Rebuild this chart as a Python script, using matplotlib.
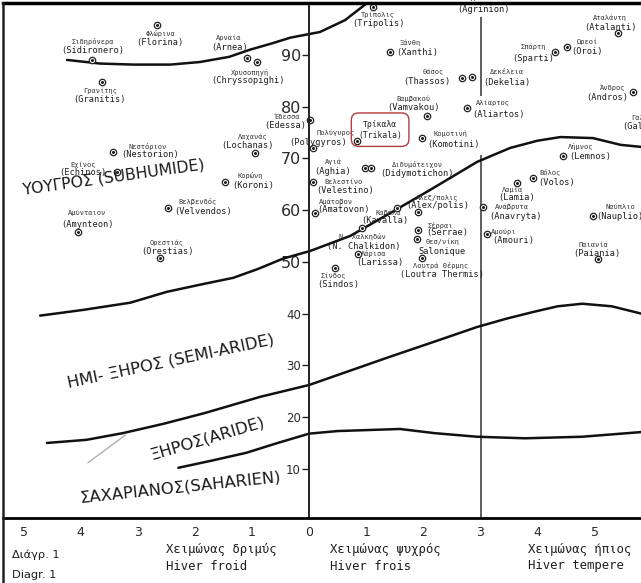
import matplotlib
matplotlib.use("Agg")
import matplotlib.pyplot as plt
from matplotlib.lines import Line2D

# ---------------- data ----------------
# Emberger climagram: x = m (mean minimum of the coldest month, deg C), y = Q2
humid_m = [-4.24, -3.66, -3.08, -2.43, -1.91, -1.40, -1.03, -0.65, -0.33, 0.19, 0.63, 0.98]
humid_q = [89.0, 88.3, 88.1, 88.1, 88.6, 89.6, 91.0, 92.2, 93.3, 94.4, 96.7, 99.7]

subhumid_m = [-4.71, -3.96, -3.13, -2.49, -1.90, -1.33, -0.90, -0.46, 0.02, 0.72, 1.37,
              2.12, 2.94, 3.52, 4.00, 4.40, 4.97, 5.45, 5.81]
subhumid_q = [39.6, 40.7, 42.1, 44.2, 45.6, 46.9, 48.6, 50.6, 52.1, 55.0, 59.1,
              63.9, 69.3, 72.0, 73.4, 74.1, 73.9, 72.6, 72.2]

semiarid_m = [-4.59, -3.90, -3.26, -2.55, -1.82, -0.86, 0.00, 0.70, 1.40, 2.20, 2.94,
              3.45, 3.92, 4.35, 4.78, 5.30, 5.81]
semiarid_q = [15.0, 15.6, 16.9, 18.7, 20.8, 23.9, 26.2, 28.9, 31.6, 34.6, 37.4,
              39.0, 40.3, 41.4, 41.9, 41.4, 40.0]

arid_m = [-2.29, -1.70, -1.10, -0.55, 0.00, 0.50, 1.05, 1.59, 2.19, 2.94, 3.78, 4.78, 5.81]
arid_q = [10.2, 11.6, 13.1, 15.0, 16.8, 17.3, 17.5, 17.7, 16.9, 16.2, 15.9, 16.2, 17.1]

station_gr = ["Σιδηρόνερα", "Φλώρινα", "Αρναία", "Χρυσοπηγή", "Γρανίτης", "Έδεσσα",
              "Λαχανάς", "Νεστόριον", "Πολύγυρος", "Τρίκαλα", "Εχίνος", "Κορώνη",
              "Βελβενδός", "Αμύνταιον", "Ορεστιάς", "Τρίπολις", "Ξάνθη", "Θάσος",
              "Δεκέλεια", "Βαμβακού", "Αλίαρτος", "Σπάρτη", "Ωρεοί", "Αταλάντη",
              "Άνδρος", "Γαλαξίδι", "Κομοτινή", "Λήμνος", "Αγιά", "Διδυμότειχον",
              "Βελεστίνο", "Αμάτοβον", "Καβάλα", "Αλεξ/πολις", "Σέρραι", "Θεσ/νίκη",
              "Ν. Χαλκηδών", "Λάρισα", "Λουτρά Θέρμης", "Σίνδος", "Βόλος", "Λαμία",
              "Ανάβρυτα", "Αμούρι", "Ναύπλιο", "Παιανία", "Αγρίνιον"]
station_lat = ["(Sidironero)", "(Florina)", "(Arnea)", "(Chryssopighi)", "(Granitis)", "(Edessa)",
               "(Lochanas)", "(Nestorion)", "(Polygyros)", "(Trikala)", "(Echinos)", "(Koroni)",
               "(Velvendos)", "(Amynteon)", "(Orestias)", "(Tripolis)", "(Xanthi)", "(Thassos)",
               "(Dekelia)", "(Vamvakou)", "(Aliartos)", "(Sparti)", "(Oroi)", "(Atalanti)",
               "(Andros)", "(Galaxidi)", "(Komotini)", "(Lemnos)", "(Aghia)", "(Didymotichon)",
               "(Velestino)", "(Amatovon)", "(Kavalla)", "(Alex/polis)", "(Serrae)", "Salonique",
               "(N. Chalkidon)", "(Larissa)", "(Loutra Thermis)", "(Sindos)", "(Volos)", "(Lamia)",
               "(Anavryta)", "(Amouri)", "(Nauplio)", "(Paiania)", "(Agrinion)"]
station_m = [-3.80, -2.66, -1.09, -0.91, -3.63, 0.02,
             -0.95, -3.43, 0.07, 0.84, -3.36, -1.47,
             -2.47, -4.05, -2.61, 1.12, 1.42, 2.68,
             2.85, 2.07, 2.77, 4.31, 4.52, 5.41,
             5.67, 6.15, 1.98, 4.45, 0.98, 1.09,
             0.07, 0.11, 1.54, 1.91, 1.91, 1.89,
             0.93, 0.86, 1.98, 0.46, 3.92, 3.64,
             3.05, 3.12, 4.97, 5.06, 3.05]
station_q2 = [89.0, 95.8, 89.4, 88.6, 84.8, 77.4,
              71.1, 71.3, 72.0, 73.4, 67.4, 65.4,
              60.4, 55.8, 50.8, 99.3, 90.6, 85.6,
              85.7, 78.2, 79.8, 90.6, 91.5, 94.2,
              82.9, 77.8, 73.9, 70.5, 68.2, 68.2,
              65.5, 59.4, 60.3, 59.7, 56.2, 54.4,
              56.6, 51.5, 50.8, 48.8, 66.2, 65.3,
              60.6, 55.4, 58.9, 50.6, 102.9]
highlight_station = "(Trikala)"

zone_names = ["ΥΟΥΓΡΟΣ (SUBHUMIDE)", "ΗΜΙ- ΞΗΡΟΣ (SEMI-ARIDE)",
              "ΞΗΡΟΣ(ARIDE)", "ΣΑΧΑΡΙΑΝΟΣ(SAHARIEN)"]
q2_ticks = [10, 20, 30, 40, 50, 60, 70, 80, 90]
m_ticks = [-5, -4, -3, -2, -1, 0, 1, 2, 3, 4, 5]
winter_gr = ["Χειμώνας δριμύς", "Χειμώνας ψυχρός", "Χειμώνας ήπιος"]
winter_fr = ["Hiver froid", "Hiver frois", "Hiver tempere"]

# ---------------- layout ----------------
# label offsets in pixels (dx, dy downward) for the Greek line and the Latin line
label_offsets = [(1, -18, 1, -9), (3, 9, 3, 18), (-18, -20, -17, -10), (-7, 10, -9, 18),
                 (-2, 9, -2, 18), (-23, -3, -25, 6), (-2, -16, -7, -7), (34, -5, 37, 3),
                 (22, -15, 5, -5), (23, -11, 23, -11), (-34, -7, -34, 1), (25, -7, 28, 3),
                 (29, -6, 35, 4), (9, -19, 10, -7), (7, -15, 7, -6), (5, 8, 5, 17),
                 (20, -9, 27, 1), (-29, -6, -35, 4), (35, -5, 35, 5), (-14, -17, -14, -8),
                 (26, -5, 31, 7), (-22, -5, -22, 7), (20, -5, 20, 5), (-8, -15, -8, -6),
                 (-20, -4, -26, 6), (-12, 0, -12, 9), (28, -5, 31, 6), (17, -9, 27, 1),
                 (-32, -6, -32, 4), (46, -3, 46, 6), (30, 0, 32, 9), (20, -11, 28, -4),
                 (-9, 4, -12, 12), (19, -14, 20, -6), (22, -4, 29, 3), (26, 3, 25, 12),
                 (0, 9, 1, 19), (15, 0, 22, 8), (18, 8, 20, 17), (-2, 8, 3, 16),
                 (17, -5, 24, 5), (-5, 7, 0, 15), (29, 0, 32, 10), (16, -2, 26, 7),
                 (27, -9, 27, 1), (-5, -14, -1, -5), (0, 10, 0, 22)]

W, H = 641, 583
mono = "DejaVu Sans Mono"
ink = "#1e1e1e"

fig = plt.figure(figsize=(W / 100, H / 100), dpi=100)
fig.patch.set_facecolor("white")
ax = fig.add_axes([3 / W, (H - 518) / H, (W - 3) / W, (518 - 3) / H])
ax.set_xlim(-5.36, 5.81)
ax.set_ylim(0.5, 100.0)

# frame: Q2 axis through m = 0, heavy base line and top rule
ax.spines["left"].set_position(("data", 0))
ax.spines["left"].set_linewidth(1.4)
ax.spines["left"].set_color("#222222")
ax.spines["bottom"].set_linewidth(2.0)
ax.spines["top"].set_linewidth(2.5)
ax.spines["right"].set_visible(False)
fig.add_artist(Line2D([3 / W, 3 / W], [0, 1 - 3 / H], color="#222222", lw=1.8))

ax.set_yticks(q2_ticks)
ax.set_yticklabels([str(v) for v in q2_ticks])
ax.tick_params(axis="y", direction="out", length=5, width=1.0, pad=1, colors="#222222")
for lab, v in zip(ax.get_yticklabels(), q2_ticks):
    lab.set_fontsize(11.5 if v >= 50 else 8.5)
    lab.set_color("#2a2a2a")
    lab.set_fontweight("medium" if v >= 50 else "normal")

ax.set_xticks(m_ticks)
ax.set_xticklabels([str(abs(v)) for v in m_ticks])
ax.tick_params(axis="x", length=0, pad=6, labelsize=9, labelcolor="#2a2a2a")

# m = 3 guide line, interrupted around the Aliartos / Komotini labels
ax.vlines(3, 0.5, 70.7, color="#333333", lw=1.1)
ax.vlines(3, 82.0, 97.3, color="#333333", lw=1.1)

# bioclimatic boundaries
for xs, ys in [(humid_m, humid_q), (subhumid_m, subhumid_q),
               (semiarid_m, semiarid_q), (arid_m, arid_q)]:
    ax.plot(xs, ys, color="#111111", lw=1.8, solid_capstyle="round")

# faint pencil stroke near the arid boundary
ax.plot([-3.87, -3.22], [11.2, 16.5], color="#b0b0b0", lw=1.0)

# stations
ax.plot(station_m, station_q2, "o", mfc="white", mec="#222222", ms=4.6, mew=0.9)
ax.plot(station_m, station_q2, "o", color="#222222", ms=1.2)

for gr, lat, m, q, off in zip(station_gr, station_lat, station_m, station_q2, label_offsets):
    gdx, gdy, ldx, ldy = off
    if lat == highlight_station:
        ax.annotate(gr + "\n" + lat, (m, q), xytext=(gdx, -gdy), textcoords="offset pixels",
                    ha="center", va="center", fontsize=5.8, family=mono, color=ink,
                    linespacing=1.25, annotation_clip=False,
                    bbox=dict(boxstyle="round,pad=0.85,rounding_size=0.9",
                              fc="none", ec="#b23b3b", lw=1.0))
        continue
    ax.annotate(gr, (m, q), xytext=(gdx, -gdy), textcoords="offset pixels",
                ha="center", va="center", fontsize=5.0, family=mono, color="#333333",
                annotation_clip=False)
    ax.annotate(lat, (m, q), xytext=(ldx, -ldy), textcoords="offset pixels",
                ha="center", va="center", fontsize=6.2, family=mono, color=ink,
                annotation_clip=False)

# zone names
zone_pos = [(-3.42, 66.4, 8), (-2.42, 30.8, 12), (-1.78, 15.9, 16.5), (-2.25, 6.4, 6)]
zone_size = [11.3, 11.8, 11.8, 11.8]
for name, (x, y, rot), fs in zip(zone_names, zone_pos, zone_size):
    ax.text(x, y, name, rotation=rot, rotation_mode="anchor", ha="center", va="center",
            fontsize=fs, color="#1a1a1a", family="DejaVu Sans")

# winter classes under the m axis
for gr, fr, px in zip(winter_gr, winter_fr, [166, 330, 528]):
    fig.text(px / W, 1 - 549 / H, gr, fontsize=8.8, family=mono, color=ink, va="center")
    fig.text(px / W, 1 - 566 / H, fr, fontsize=8.8, family=mono, color=ink, va="center")

fig.text(12 / W, 1 - 555 / H, "Διάγρ. 1", fontsize=8.2, family="DejaVu Sans", color=ink, va="center")
fig.text(12 / W, 1 - 575 / H, "Diagr. 1", fontsize=8.2, family="DejaVu Sans", color=ink, va="center")

fig.savefig("out.png", dpi=100, facecolor="white")
